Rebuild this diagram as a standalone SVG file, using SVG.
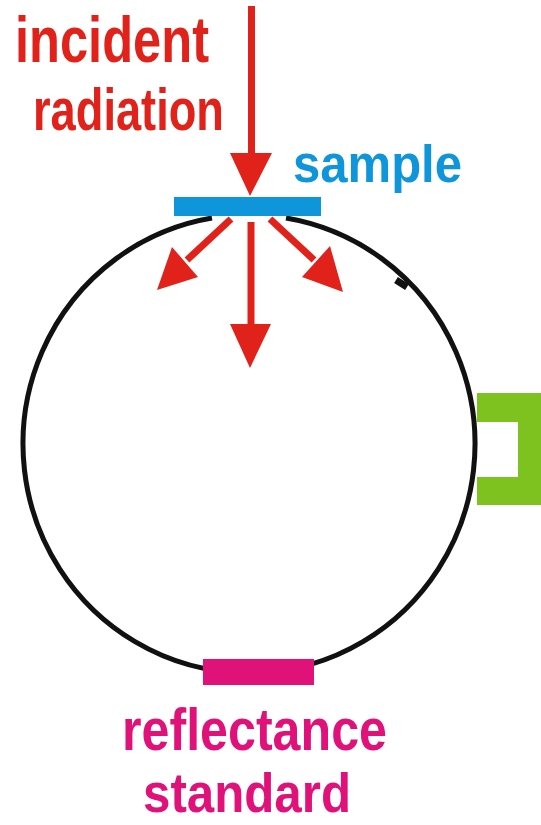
<svg xmlns="http://www.w3.org/2000/svg" width="541" height="825" viewBox="0 0 541 825">
<style>
.lbl{font-family:"Liberation Sans",Arial,sans-serif;font-weight:bold}
.red{fill:#e0221b}
.shaft{stroke:#e0221b;stroke-width:7;fill:none}
</style>
<rect width="541" height="825" fill="#ffffff"/>
<g id="sphere">
<path d="M 286 218 A 226 229 0 1 1 212 218" fill="none" stroke="#111" stroke-width="5"/>
<path d="M 396 280 L 407 287" stroke="#111" stroke-width="7"/>
</g>
<g id="port">
<path d="M 477 393 H 541 V 505 H 477 V 477 H 518 V 422 H 477 Z" fill="#7dc21f"/>
</g>
<g id="sample">
<rect x="174" y="197" width="147" height="19" fill="#0f95da"/>
<text class="lbl" x="293" y="182" font-size="51" fill="#0f95da" textLength="169" lengthAdjust="spacingAndGlyphs">sample</text>
</g>
<g id="standard">
<rect x="203" y="659" width="111" height="26" fill="#e0127a"/>
<text class="lbl" x="122" y="750" font-size="60" fill="#e0127a" textLength="265" lengthAdjust="spacingAndGlyphs">reflectance</text>
<text class="lbl" x="143" y="812" font-size="56" fill="#e0127a" textLength="208" lengthAdjust="spacingAndGlyphs">standard</text>
</g>
<g id="incident">
<text class="lbl red" x="15" y="62" font-size="65" textLength="194" lengthAdjust="spacingAndGlyphs">incident</text>
<text class="lbl red" x="33" y="130" font-size="60" textLength="191" lengthAdjust="spacingAndGlyphs">radiation</text>
</g>
<g id="connectors">
<line class="shaft" x1="251.5" y1="6" x2="251.5" y2="156"/>
<polygon class="red" points="230,153 272,153 250,196"/>
<line class="shaft" x1="251" y1="222" x2="251" y2="326"/>
<polygon class="red" points="230,324 271,324 250,368"/>
<line class="shaft" x1="231" y1="219" x2="187" y2="260"/>
<polygon class="red" points="172,247 198,277 157,290"/>
<line class="shaft" x1="270" y1="219" x2="314" y2="260"/>
<polygon class="red" points="330,246 302,277 343,292"/>
</g>
</svg>
